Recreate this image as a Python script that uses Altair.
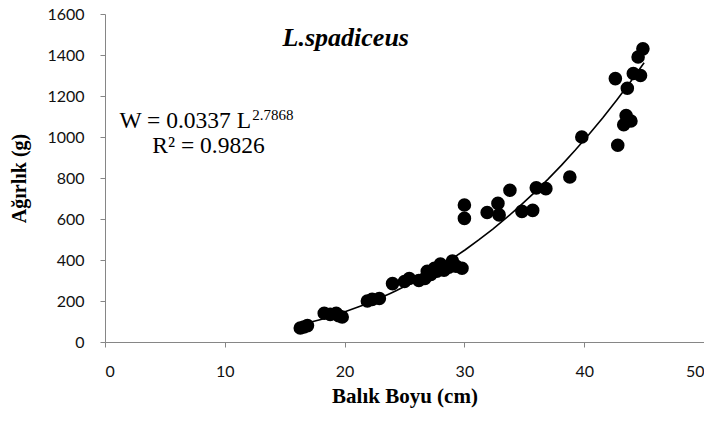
import altair as alt
import pandas as pd

# Fish length (cm) and weight (g)
length_cm = [16.3, 16.6, 16.9, 18.3, 18.8, 19.3, 19.5, 19.8, 21.9, 22.3, 22.9,
             24.0, 25.0, 25.4, 26.2, 26.7, 26.9, 27.2, 27.5, 27.7, 28.0, 28.3,
             28.7, 29.0, 29.3, 29.8, 30.0, 30.0, 31.9, 32.8, 32.9, 33.8, 34.8,
             35.7, 36.0, 36.8, 38.8, 39.8, 42.6, 42.8, 43.3, 43.5, 43.9, 43.6,
             44.1, 44.7, 44.5, 44.9]
weight_g = [68, 73, 80, 140, 135, 140, 128, 122, 200, 208, 212,
            285, 295, 310, 300, 310, 345, 330, 360, 345, 380, 350,
            365, 395, 370, 360, 603, 668, 632, 676, 620, 740, 637,
            642, 752, 748, 805, 1000, 1285, 960, 1060, 1105, 1078, 1238,
            1310, 1300, 1390, 1430]

x_ticks = [0, 10, 20, 30, 40, 50]
y_ticks = [0, 200, 400, 600, 800, 1000, 1200, 1400, 1600]

species = "L.spadiceus"
eq_main = "W = 0.0337 L"
eq_exp = "2.7868"
eq_r2 = "R² = 0.9826"
x_title = "Balık Boyu (cm)"
y_title = "Ağırlık (g)"

df = pd.DataFrame({"L": length_cm, "W": weight_g})

x_scale = alt.Scale(domain=[0, 50], nice=False, zero=True)
y_scale = alt.Scale(domain=[0, 1600], nice=False)

x_enc = alt.X("L:Q", scale=x_scale,
              axis=alt.Axis(values=x_ticks, title=x_title, grid=False, format="d",
                            titleY=54, titleBaseline="middle",
                            titleFont="Liberation Serif", titleFontSize=21,
                            titleFontWeight="bold", labelPadding=16))
y_enc = alt.Y("W:Q", scale=y_scale,
              axis=alt.Axis(values=y_ticks, title=y_title, grid=False, format="d",
                            titleX=-86, titleY=164, titleAngle=-90,
                            titleBaseline="middle", titleAlign="center",
                            titleFont="Liberation Serif", titleFontSize=20,
                            titleFontWeight="bold", labelPadding=16))

base = alt.Chart(df)

trend = base.transform_regression(
    "L", "W", method="pow", extent=[16.3, 45]
).mark_line(color="black", strokeWidth=1.6).encode(x=x_enc, y=y_enc)

points = base.mark_circle(size=185, color="black", opacity=1).encode(x=x_enc, y=y_enc)

ann = pd.DataFrame({
    "L": [20.1, 1.2, 12.3, 3.95],
    "W": [1444, 1046, 1082, 924],
    "t": [species, eq_main, eq_exp, eq_r2],
    "kind": ["title", "eq", "exp", "eq"],
})

title_txt = alt.Chart(ann[ann.kind == "title"]).mark_text(
    font="Liberation Serif", fontSize=26, fontWeight="bold", fontStyle="italic",
    align="center", baseline="alphabetic", color="black"
).encode(x=alt.X("L:Q", scale=x_scale), y=alt.Y("W:Q", scale=y_scale), text="t:N")

eq_txt = alt.Chart(ann[ann.kind == "eq"]).mark_text(
    font="Liberation Serif", fontSize=23.5, align="left", baseline="alphabetic",
    color="black"
).encode(x=alt.X("L:Q", scale=x_scale), y=alt.Y("W:Q", scale=y_scale), text="t:N")

exp_txt = alt.Chart(ann[ann.kind == "exp"]).mark_text(
    font="Liberation Serif", fontSize=15, align="left", baseline="alphabetic",
    color="black"
).encode(x=alt.X("L:Q", scale=x_scale), y=alt.Y("W:Q", scale=y_scale), text="t:N")

chart = alt.layer(trend, points, title_txt, eq_txt, exp_txt).properties(
    width=599, height=328,
    autosize=alt.AutoSizeParams(type="none"),
    padding={"left": 97, "top": 6, "right": 0, "bottom": 66},
    background="white",
).configure_view(stroke=None).configure_axis(
    domainColor="#868686", tickColor="#868686", tickSize=5,
    labelFont="Lato", labelFontSize=16, labelColor="#111",
    titleColor="black",
)

chart.save("out.html", embed_options={"renderer": "svg", "actions": False})
